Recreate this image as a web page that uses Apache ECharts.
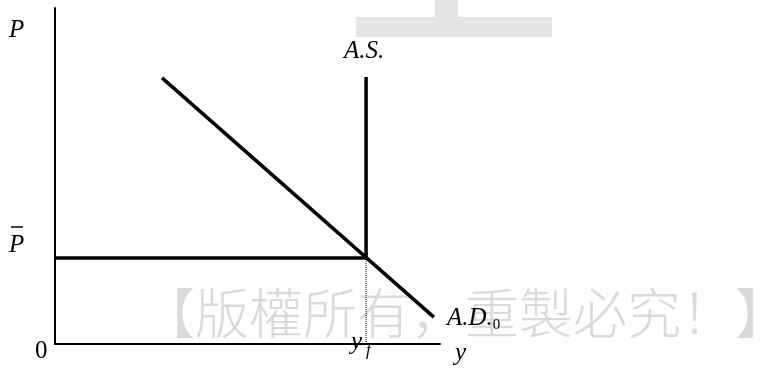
<!DOCTYPE html>
<html>
<head>
<meta charset="utf-8">
<script src="https://cdn.jsdelivr.net/npm/echarts@6/dist/echarts.min.js"></script>
<style>
  html, body { margin: 0; padding: 0; background: #fff; }
  #chart { width: 761px; height: 368px; }
</style>
</head>
<body>
<div id="chart"></div>
<script>
    // values (axis units 0..10 on both axes)
    const yF = 8.08;     // full employment output
    const pBar = 2.56;   // fixed price level
    const adPoints = [[2.78, 7.92], [9.84, 0.80]];
    const asPoints = [[yF, pBar], [yF, 7.95]];
    const pBarPoints = [[0, pBar], [yF, pBar]];
    const guidePoints = [[yF, 0], [yF, pBar]];
    const watermark = '【版權所有，重製必究！】';

    const serif = '"Liberation Serif", "Times New Roman", serif';
    const lineStyle = { color: '#000', width: 3.5 };

    const chart = echarts.init(document.getElementById('chart'));

    const label = (text, x, y, extra) => ({
        type: 'text',
        x: x,
        y: y,
        z: 10,
        style: Object.assign({
            text: text,
            fontFamily: serif,
            fontStyle: 'italic',
            fontSize: 25,
            fill: '#000'
        }, extra || {})
    });

    chart.setOption({
        animation: false,
        grid: { left: 55, right: 321, top: 8, bottom: 24 },
        xAxis: {
            type: 'value', min: 0, max: 10,
            axisLine: { lineStyle: { color: '#000', width: 2 } },
            axisTick: { show: false },
            axisLabel: { show: false },
            splitLine: { show: false }
        },
        yAxis: {
            type: 'value', min: 0, max: 10,
            axisLine: { show: true, lineStyle: { color: '#000', width: 2 } },
            axisTick: { show: false },
            axisLabel: { show: false },
            splitLine: { show: false }
        },
        graphic: [
            // grey T shape at the top
            { type: 'rect', z: 0, shape: { x: 356, y: 17, width: 196, height: 20 }, style: { fill: '#e5e5e5' } },
            { type: 'rect', z: 0, shape: { x: 435, y: 0, width: 23, height: 17 }, style: { fill: '#e5e5e5' } },
            // watermark
            {
                type: 'text', x: 141, y: 313, z: 0,
                style: {
                    text: watermark,
                    fontFamily: '"Noto Sans CJK SC", sans-serif',
                    fontWeight: 300,
                    fontSize: 54,
                    fill: '#dadada',
                    verticalAlign: 'middle'
                }
            },
            label('P', 9, 18),
            label('P', 9, 233),
            { type: 'line', z: 10, shape: { x1: 11, y1: 227, x2: 23, y2: 227 }, style: { stroke: '#000', lineWidth: 1.5 } },
            label('0', 35, 339, { fontStyle: 'normal' }),
            label('A.S.', 344, 39),
            label('{m|A.D.}{s|0}', 447, 303, {
                rich: {
                    m: { fontFamily: serif, fontStyle: 'italic', fontSize: 25, fill: '#000' },
                    s: { fontFamily: serif, fontStyle: 'normal', fontSize: 15, fill: '#000', padding: [15, 0, 0, 0] }
                }
            }),
            label('{m|y}{s|f}', 351, 326, {
                rich: {
                    m: { fontFamily: serif, fontStyle: 'italic', fontSize: 25, fill: '#000' },
                    s: { fontFamily: serif, fontStyle: 'italic', fontSize: 17, fill: '#000', padding: [16, 0, 0, 4] }
                }
            }),
            label('y', 455, 341)
        ],
        series: [
            { type: 'line', data: adPoints, showSymbol: false, lineStyle: lineStyle, z: 5 },
            { type: 'line', data: asPoints, showSymbol: false, lineStyle: lineStyle, z: 5 },
            { type: 'line', data: pBarPoints, showSymbol: false, lineStyle: lineStyle, z: 5 },
            { type: 'line', data: guidePoints, showSymbol: false, z: 4,
              lineStyle: { color: '#000', width: 1, type: 'dotted' } }
        ]
    });
</script>
</body>
</html>
